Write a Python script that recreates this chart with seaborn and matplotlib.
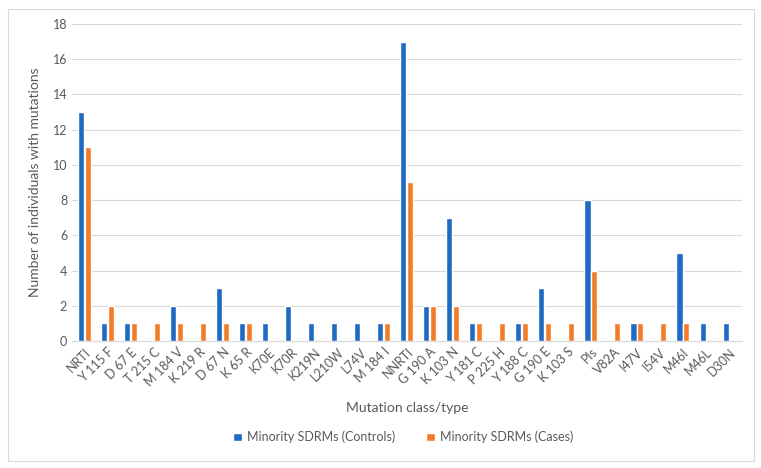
import numpy as np
import pandas as pd
import matplotlib
matplotlib.use("Agg")
import matplotlib.pyplot as plt
import seaborn as sns
from matplotlib.patches import Rectangle

categories = ['NRTI', 'Y 115 F', 'D 67 E', 'T 215 C', 'M 184 V', 'K 219 R', 'D 67 N',
              'K 65 R', 'K70E', 'K70R', 'K219N', 'L210W', 'L74V', 'M 184 I', 'NNRTI',
              'G 190 A', 'K 103 N', 'Y 181 C', 'P 225 H', 'Y 188 C', 'G 190 E', 'K 103 S',
              'PIs', 'V82A', 'I47V', 'I54V', 'M46I', 'M46L', 'D30N']
controls = [13, 1, 1, 0, 2, 0, 3, 1, 1, 2, 1, 1, 1, 1, 17,
            2, 7, 1, 0, 1, 3, 0, 8, 0, 1, 0, 5, 1, 1]
cases = [11, 2, 1, 1, 1, 1, 1, 1, 0, 0, 0, 0, 0, 1, 9,
         2, 2, 1, 1, 1, 1, 1, 4, 1, 1, 1, 1, 0, 0]
series_names = ['Minority SDRMs (Controls)', 'Minority SDRMs (Cases)']

df = pd.DataFrame({
    'category': categories * 2,
    'value': controls + cases,
    'series': [series_names[0]] * len(categories) + [series_names[1]] * len(categories),
})

sns.set_style('white')
plt.rcParams['font.family'] = ['Lato', 'DejaVu Sans']
grey = '#595959'

fig = plt.figure(figsize=(7.61, 4.68), dpi=100)
ax = fig.add_axes([0.0946, 0.2714, 0.88, 0.6773])

sns.barplot(data=df, x='category', y='value', hue='series',
            palette=['#1F6BC4', '#F47B29'], width=0.6, gap=0.12,
            saturation=1, ax=ax, legend=True)

ax.set_ylim(0, 18)
ax.set_yticks(range(0, 19, 2))
ax.set_xlim(-0.55, len(categories) - 0.45)
ax.yaxis.grid(True, color='#D9D9D9', linewidth=0.8)
ax.set_axisbelow(True)
for s in ['top', 'right', 'left']:
    ax.spines[s].set_visible(False)
ax.spines['bottom'].set_color('#D9D9D9')
ax.tick_params(axis='both', length=0, colors=grey, labelsize=9)
plt.setp(ax.get_xticklabels(), rotation=45, ha='right', rotation_mode='anchor')

ax.set_xlabel('Mutation class/type', color=grey, fontsize=10, labelpad=10)
ax.set_ylabel('Number of individuals with mutations', color=grey, fontsize=10, labelpad=8)

handles, labels = ax.get_legend_handles_labels()
ax.get_legend().remove()
leg = fig.legend(handles, labels, loc='center', bbox_to_anchor=(0.53, 0.066), ncol=2,
                 frameon=False, fontsize=9, handlelength=0.7, handleheight=0.7,
                 columnspacing=2.5, handletextpad=0.4)
for t in leg.get_texts():
    t.set_color(grey)

fig.patches.append(Rectangle((0.011, 0.015), 0.98, 0.965, transform=fig.transFigure,
                             fill=False, edgecolor='#D9D9D9', linewidth=0.8))

fig.savefig('out.png', dpi=100)
